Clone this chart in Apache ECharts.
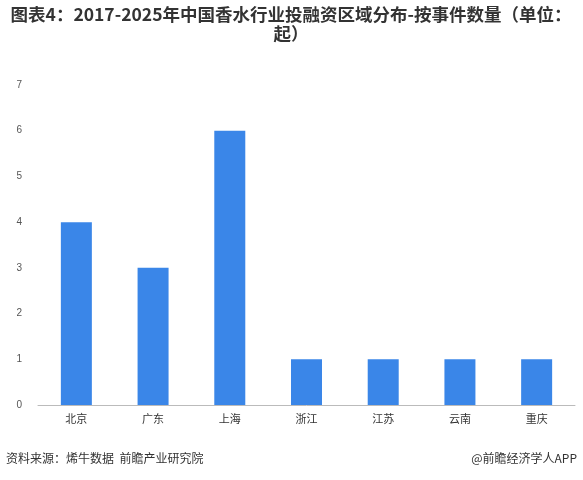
<!DOCTYPE html>
<html><head><meta charset="utf-8">
<script src="https://cdn.jsdelivr.net/npm/echarts@6/dist/echarts.min.js"></script>
<style>html,body{margin:0;padding:0;background:#fff}#c{width:583px;height:480px}</style>
</head><body><div id="c"></div>
<script>
const categories = ['北京','广东','上海','浙江','江苏','云南','重庆'];
const values = [4,3,6,1,1,1,1];
const titleText = '图表4：2017-2025年中国香水行业投融资区域分布-按事件数量（单位：\n起）';
const chart = echarts.init(document.getElementById('c'));
chart.setOption({
  animation:false,
  graphic:[
    {type:'text',x:291,y:5,style:{text:titleText,x:0,y:0,align:'center',verticalAlign:'top',font:'bold 17.5px "Noto Sans CJK SC"',fill:'#333',lineHeight:19}},
    {type:'text',left:6,top:452,style:{text:'资料来源：烯牛数据  前瞻产业研究院',font:'12px "Noto Sans CJK SC"',fill:'#333'}},
    {type:'text',right:6,top:452,style:{text:'@前瞻经济学人APP',font:'12px "Noto Sans CJK SC"',fill:'#333'}}
  ],
  grid:{left:38,right:8,top:85,bottom:75},
  xAxis:{type:'category',data:categories,axisLine:{lineStyle:{color:'#bbb'}},axisTick:{show:false},
    axisLabel:{color:'#333',fontSize:11,fontFamily:'Noto Sans CJK SC',margin:8}},
  yAxis:{type:'value',min:0,max:7,interval:1,axisLine:{show:false},axisTick:{show:false},splitLine:{show:false},
    axisLabel:{color:'#555',fontSize:10,margin:16}},
  series:[{type:'bar',data:values,barWidth:31,itemStyle:{color:'#3a86e8'}}]
});
</script></body></html>
